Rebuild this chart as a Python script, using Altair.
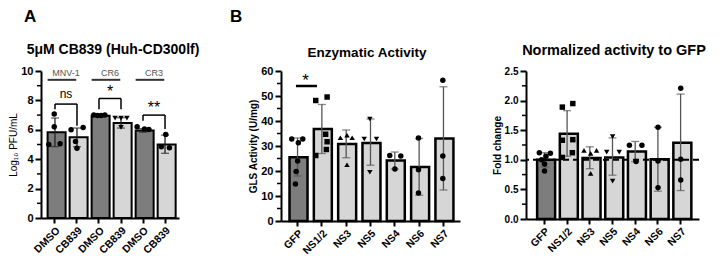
import altair as alt
import pandas as pd

FONT = "Liberation Sans"
DARK = "#7d7d7d"
LIGHT = "#d6d6d6"

# ---------------- Panel A data ----------------
a_cats = ["MNV-1|DMSO", "MNV-1|CB839", "CR6|DMSO", "CR6|CB839", "CR3|DMSO", "CR3|CB839"]
a_tone = ["dark", "light", "dark", "light", "dark", "light"]
a_mean = [5.83, 5.49, 6.96, 6.47, 5.95, 5.00]
a_err_lo = [4.86, 4.85, 6.90, 6.12, 5.84, 4.40]
a_err_hi = [6.80, 6.12, 7.00, 6.82, 6.08, 5.64]
a_pts = [[7.07, 6.20, 5.00, 5.05], [6.01, 6.15, 5.20, 4.75], [7.00, 6.98, 6.98, 7.00],
         [6.80, 6.80, 6.80, 6.17], [6.20, 6.06, 6.02], [5.68, 4.85, 4.78]]
a_jit = [[-0.05, -0.05, -0.42, 0.35], [-0.4, 0.42, -0.1, 0.0], [-0.35, -0.1, 0.15, 0.4],
         [-0.4, 0.0, 0.4, 0.0], [-0.4, 0.1, 0.4], [0.05, -0.25, 0.3]]
a_shape = ["circle", "circle", "circle", "triangle-down", "circle", "circle"]
a_groups = ["MNV-1", "CR6", "CR3"]
a_group_y = [9.4, 9.4, 9.4]
a_group_text_y = [9.84, 9.84, 9.84]
a_sig = ["ns", "*", "**"]
a_sig_size = [12, 16, 16]
a_brk_y = [7.75, 8.13, 7.0]
a_brk_left = [7.4, 7.4, 6.62]
a_brk_right = [6.28, 7.4, 6.06]
a_sig_y = [8.43, 8.85, 7.75]

# ---------------- Panel B data ----------------
b_cats = ["GFP", "NS1/2", "NS3", "NS5", "NS4", "NS6", "NS7"]
b_tone = ["dark", "light", "light", "light", "light", "light", "light"]
b_shape = ["circle", "square", "triangle-up", "triangle-down", "circle", "circle", "circle"]

b1_mean = [25.5, 36.8, 30.8, 31.2, 24.2, 21.6, 33.0]
b1_err_lo = [18.0, 27.0, 25.3, 22.3, 20.8, 10.3, 12.4]
b1_err_hi = [33.2, 46.6, 36.4, 40.8, 27.6, 33.0, 53.7]
b1_pts = [[32.8, 32.8, 31.3, 24.0, 19.8, 14.8], [48.2, 49.6, 34.7, 31.7, 26.2, 28.6],
          [33.3, 34.3, 33.3, 22.5], [32.8, 32.8, 40.8, 19.5], [26.2, 26.0, 20.8],
          [33.2, 20.5, 11.2], [56.3, 26.0, 17.0]]
b1_jit = [[-0.35, 0.4, 0.1, 0.05, -0.05, -0.1], [-0.37, 0.4, 0.3, 0.4, -0.37, 0.35],
          [-0.35, 0.1, 0.45, 0.1], [-0.38, 0.45, 0.0, 0.0], [-0.3, 0.45, 0.05],
          [0.0, 0.0, 0.0], [0.0, 0.0, 0.0]]
b1_sig = ["*"]
b1_sig_line_y = [54.0]
b1_sig_y = [58.0]

b2_mean = [1.00, 1.44, 1.03, 1.04, 1.14, 1.01, 1.29]
b2_err_lo = [0.88, 1.06, 0.85, 0.74, 0.97, 0.47, 0.48]
b2_err_hi = [1.12, 1.83, 1.22, 1.37, 1.31, 1.55, 2.11]
b2_pts = [[1.12, 1.11, 1.06, 1.00, 0.93, 0.81], [1.89, 1.95, 1.33, 1.34, 1.04, 1.12],
          [1.16, 1.11, 1.16, 0.77], [1.13, 1.13, 1.39, 0.64], [1.245, 1.245, 0.97],
          [1.55, 0.98, 0.53], [2.21, 1.01, 0.66]]
b2_jit = [[-0.35, 0.4, 0.1, -0.2, 0.0, 0.0], [-0.33, 0.38, -0.33, 0.38, -0.33, 0.35],
          [-0.4, 0.05, 0.45, 0.05], [-0.4, 0.45, 0.0, 0.0], [-0.4, 0.45, 0.05],
          [0.0, 0.0, 0.0], [0.0, 0.0, 0.0]]
b2_ref = [1.0]

panel_letters = ["A", "B"]
panel_titles = ["5\u03bcM CB839 (Huh-CD300lf)", "Enzymatic Activity", "Normalized activity to GFP"]


def text_layer(txt, x, y, size, weight="bold", align="center", baseline="alphabetic"):
    return alt.Chart(pd.DataFrame({"t": [txt]})).mark_text(
        font=FONT, fontSize=size, fontWeight=weight, color="black", align=align,
        baseline=baseline).encode(x=alt.value(x), y=alt.value(y), text="t:N")


def build_panel(cats, tone, mean, lo, hi, pts, jit, shapes, ymax, yvals, yminor, ytitle,
                ytitle_weight, yfmt, width, height, pin, pout, ylab_size, cap, err_color,
                bar_sw, label_expr=None, extra=None):
    n = len(cats)
    step = width / (n - pin + 2 * pout)
    bw = step * (1 - pin)
    gap = step - bw
    xscale = alt.Scale(domain=cats, paddingInner=pin, paddingOuter=pout)
    xaxis_kw = dict(title=None, labelAngle=-45, labelFont=FONT, labelFontWeight="bold",
                    labelFontSize=10.5, labelColor="black", domainColor="black", domainWidth=2,
                    tickColor="black", tickWidth=2, tickSize=5, labelPadding=2, grid=False)
    if label_expr:
        xaxis_kw["labelExpr"] = label_expr
    xaxis = alt.Axis(**xaxis_kw)
    yscale = alt.Scale(domain=[0, ymax], nice=False, zero=True)
    yaxis = alt.Axis(values=yvals, format=yfmt, title=ytitle, grid=False, domainColor="black",
                     domainWidth=2, tickColor="black", tickWidth=2, tickSize=6,
                     labelFont=FONT, labelFontWeight="bold", labelFontSize=ylab_size,
                     labelColor="black", labelPadding=2, titleFont=FONT,
                     titleFontWeight=ytitle_weight, titleFontSize=10, titleColor="black",
                     titlePadding=2)

    def X(field, bp=None):
        kw = dict(scale=xscale, axis=xaxis)
        if bp is not None:
            kw["bandPosition"] = bp
        return alt.X(field + ":N", **kw)

    def Y(field):
        return alt.Y(field + ":Q", scale=yscale, axis=yaxis)

    bar_df = pd.DataFrame({"cat": cats, "tone": tone, "mean": mean, "lo": lo, "hi": hi})
    rows = []
    for c, vals, js, sh in zip(cats, pts, jit, shapes):
        for v, j in zip(vals, js):
            rows.append({"cat": c, "val": v, "jit": j, "shape": sh})
    pt_df = pd.DataFrame(rows)
    minor_df = pd.DataFrame({"v": yminor})

    bars = alt.Chart(bar_df).mark_bar(stroke="black", strokeWidth=bar_sw).encode(
        x=X("cat"), y=Y("mean"),
        color=alt.Color("tone:N", scale=alt.Scale(domain=["dark", "light"], range=[DARK, LIGHT]),
                        legend=None))
    err = alt.Chart(bar_df).mark_rule(color=err_color, strokeWidth=1.3).encode(
        x=X("cat"), y=Y("lo"), y2="hi:Q")
    cap_hi = alt.Chart(bar_df).mark_tick(color=err_color, thickness=1.3, size=cap,
                                         orient="horizontal").encode(x=X("cat"), y=Y("hi"))
    cap_lo = alt.Chart(bar_df).mark_tick(color=err_color, thickness=1.3, size=cap,
                                         orient="horizontal").encode(x=X("cat"), y=Y("lo"))
    points = alt.Chart(pt_df).mark_point(filled=True, color="black", size=30, opacity=1).encode(
        x=X("cat"),
        xOffset=alt.XOffset("jit:Q", scale=alt.Scale(domain=[-0.5, 0.5], range=[0, bw])),
        y=Y("val"), shape=alt.Shape("shape:N", scale=None))
    minor = alt.Chart(minor_df).mark_rule(color="black", strokeWidth=1.5).encode(
        y=Y("v"), x=alt.value(-4), x2=alt.value(0))

    layers = [bars, err, cap_hi, cap_lo, points, minor]
    if extra:
        layers += extra(X, Y, gap)
    return alt.layer(*layers).properties(width=width, height=height)


A_W, A_H = 138, 147
B1_W, B1_H = 179, 150
B2_W, B2_H = 173, 148


def extra_a(X, Y, gap):
    g_df = pd.DataFrame({"g": a_groups, "c1": a_cats[0::2], "c2": a_cats[1::2], "y": a_group_y,
                         "ty": a_group_text_y})
    s_df = pd.DataFrame({"s": a_sig, "fs": a_sig_size, "c1": a_cats[0::2], "c2": a_cats[1::2],
                         "yb": a_brk_y, "yl": a_brk_left, "yr": a_brk_right, "ys": a_sig_y})
    glines = alt.Chart(g_df).mark_rule(color="#333333", strokeWidth=2).encode(
        x=X("c1", 0.0), x2=alt.X2("c2", bandPosition=0.45), y=Y("y"))
    gtext = alt.Chart(g_df).mark_text(font=FONT, fontSize=9, color="#555555",
                                      baseline="middle", dx=gap / 2).encode(
        x=X("c1", 1.0), y=Y("ty"), text="g:N")
    bh = alt.Chart(s_df).mark_rule(color="black", strokeWidth=1.5).encode(
        x=X("c1", 0.5), x2=alt.X2("c2", bandPosition=0.5), y=Y("yb"))
    bl = alt.Chart(s_df).mark_rule(color="black", strokeWidth=1.5).encode(
        x=X("c1", 0.5), y=Y("yb"), y2="yl:Q")
    br = alt.Chart(s_df).mark_rule(color="black", strokeWidth=1.5).encode(
        x=X("c2", 0.5), y=Y("yb"), y2="yr:Q")
    ns_txt = alt.Chart(s_df.iloc[:1]).mark_text(font=FONT, fontSize=12, color="black",
                                                baseline="middle", dx=gap / 2).encode(
        x=X("c1", 1.0), y=Y("ys"), text="s:N")
    star_txt = alt.Chart(s_df.iloc[1:]).mark_text(font=FONT, fontSize=16, color="black",
                                                  baseline="alphabetic", dx=gap / 2,
                                                  dy=9).encode(
        x=X("c1", 1.0), y=Y("ys"), text="s:N")
    letter = text_layer(panel_letters[0], -17, -62, 17, align="left", baseline="top")
    title = text_layer(panel_titles[0], A_W / 2 + 3, -17, 14)
    return [glines, gtext, bh, bl, br, ns_txt, star_txt, letter, title]


def extra_b1(X, Y, gap):
    s_df = pd.DataFrame({"s": b1_sig, "c1": [b_cats[0]], "c2": [b_cats[1]],
                         "yb": b1_sig_line_y, "ys": b1_sig_y})
    line = alt.Chart(s_df).mark_rule(color="black", strokeWidth=2.5).encode(
        x=X("c1", 0.4), x2=alt.X2("c2", bandPosition=0.2), y=Y("yb"))
    star = alt.Chart(s_df).mark_text(font=FONT, fontSize=17, color="black",
                                     baseline="alphabetic", dy=10).encode(
        x=X("c1", 1.0), y=Y("ys"), text="s:N")
    letter = text_layer(panel_letters[1], -51, -62, 17, align="left", baseline="top")
    title = text_layer(panel_titles[1], 86, -14, 13.5)
    return [line, star, letter, title]


def extra_b2(X, Y, gap):
    r_df = pd.DataFrame({"r": b2_ref})
    ref = alt.Chart(r_df).mark_rule(color="black", strokeWidth=2, strokeDash=[6, 4]).encode(
        y=Y("r"))
    title = text_layer(panel_titles[2], 88, -16, 14.5)
    return [ref, title]


panel_a = build_panel(a_cats, a_tone, a_mean, a_err_lo, a_err_hi, a_pts, a_jit, a_shape,
                      10, [0, 2, 4, 6, 8, 10], [1, 3, 5, 7, 9], "Log\u2081\u2080 PFU/mL",
                      "normal", "d", A_W, A_H, 0.33, 0.3, 11, 8, "#222222", 2,
                      label_expr="split(datum.label, '|')[1]", extra=extra_a)

panel_b1 = build_panel(b_cats, b_tone, b1_mean, b1_err_lo, b1_err_hi, b1_pts, b1_jit, b_shape,
                       60, [0, 10, 20, 30, 40, 50, 60], [5, 15, 25, 35, 45, 55],
                       "GLS Activity (U/mg)", "bold", "d", B1_W, B1_H, 0.34, 0.35, 11, 8,
                       "#555555", 2.5, extra=extra_b1)

panel_b2 = build_panel(b_cats, b_tone, b2_mean, b2_err_lo, b2_err_hi, b2_pts, b2_jit, b_shape,
                       2.5, [0, 0.5, 1.0, 1.5, 2.0, 2.5], [0.25, 0.75, 1.25, 1.75, 2.25],
                       "Fold change", "bold", ".1f", B2_W, B2_H, 0.36, 0.49, 10, 8,
                       "#555555", 2.5, extra=extra_b2)

inner = alt.hconcat(panel_b1, panel_b2, spacing=66, bounds="flush")
chart = alt.hconcat(panel_a, inner, spacing=102, bounds="flush").properties(
    padding={"left": 0, "top": 0, "right": 0, "bottom": 0},
    background="white",
).configure_view(stroke=None)

chart.save("out.html", embed_options={"renderer": "svg", "actions": False})
